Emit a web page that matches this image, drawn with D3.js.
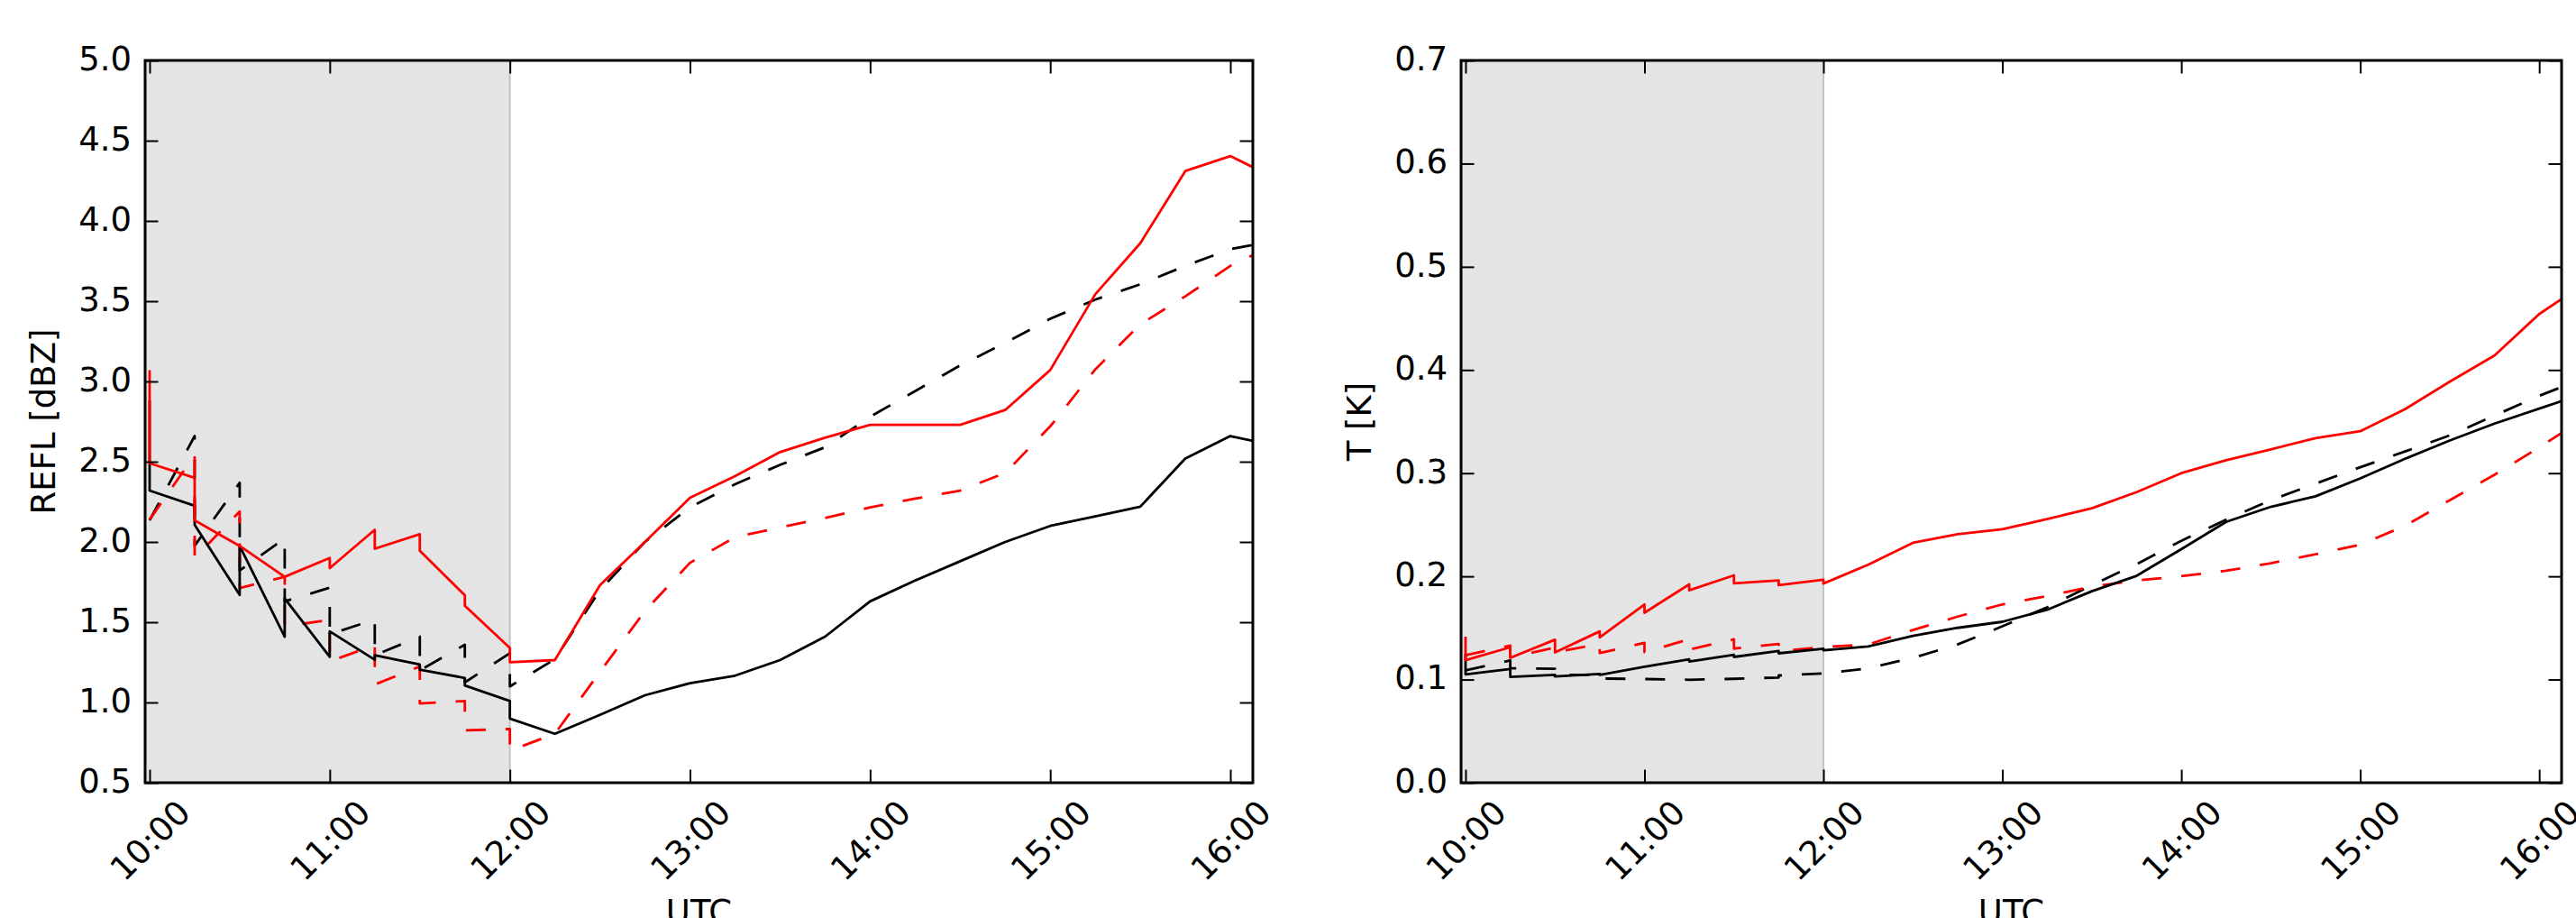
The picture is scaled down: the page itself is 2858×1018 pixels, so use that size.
<!DOCTYPE html>
<html>
<head>
<meta charset="utf-8">
<script src="https://cdn.jsdelivr.net/npm/d3@7"></script>
<style>
  html, body { margin: 0; padding: 0; background: #fff; overflow: hidden; }
  svg { display: block; }
  text { font-family: "DejaVu Sans", sans-serif; fill: #000; }
</style>
</head>
<body>
<script>
// ---------------- DATA ----------------
const hourTicks = ["10:00","11:00","12:00","13:00","14:00","15:00","16:00"];
const timeStart = "09:58:30";
const timeEnd   = "16:07:30";
const shadeEnd  = "12:00";
const reflTicks = [0.5,1.0,1.5,2.0,2.5,3.0,3.5,4.0,4.5,5.0];
const tempTicks = [0.0,0.1,0.2,0.3,0.4,0.5,0.6,0.7];

// REFL [dBZ]
const reflRedSolid = [
  ["10:00",3.07],["10:00",2.49],["10:15",2.40],["10:15",2.135],["10:30",1.975],["10:45",1.783],
  ["11:00",1.90],["11:00",1.837],["11:15",2.076],["11:15",1.958],["11:30",2.048],["11:30",1.945],
  ["11:45",1.668],["11:45",1.603],["12:00",1.34],["12:00",1.251],["12:15",1.264],["12:30",1.73],
  ["12:45",2.0],["13:00",2.275],["13:15",2.41],["13:30",2.56],["13:45",2.65],["14:00",2.73],
  ["14:15",2.73],["14:30",2.73],["14:45",2.822],["15:00",3.071],["15:15",3.543],["15:30",3.861],
  ["15:45",4.311],["16:00",4.404],["16:07:30",4.335]
];
const reflRedDashed = [
  ["10:00",2.14],["10:15",2.54],["10:15",1.90],["10:30",2.19],["10:30",1.713],["10:45",1.783],
  ["10:45",1.474],["11:00",1.515],["11:00",1.256],["11:15",1.357],["11:15",1.112],["11:30",1.224],
  ["11:30",0.994],["11:45",1.009],["11:45",0.826],["12:00",0.835],["12:00",0.70],["12:15",0.805],
  ["12:30",1.19],["12:45",1.57],["13:00",1.87],["13:15",2.03],["13:30",2.09],["13:45",2.15],
  ["14:00",2.215],["14:15",2.27],["14:30",2.32],["14:45",2.43],["15:00",2.72],["15:15",3.075],
  ["15:30",3.356],["15:45",3.53],["16:00",3.72],["16:07:30",3.787]
];
const reflBlackSolid = [
  ["10:00",2.88],["10:00",2.32],["10:15",2.225],["10:15",2.107],["10:30",1.67],["10:30",1.976],
  ["10:45",1.41],["10:45",1.648],["11:00",1.284],["11:00",1.443],["11:15",1.266],["11:15",1.294],
  ["11:30",1.237],["11:30",1.204],["11:45",1.153],["11:45",1.106],["12:00",1.009],["12:00",0.90],
  ["12:15",0.805],["12:30",0.923],["12:45",1.045],["13:00",1.12],["13:15",1.167],["13:30",1.264],
  ["13:45",1.41],["14:00",1.63],["14:15",1.76],["14:30",1.88],["14:45",2.0],["15:00",2.10],
  ["15:15",2.16],["15:30",2.22],["15:45",2.52],["16:00",2.66],["16:07:30",2.63]
];
const reflBlackDashed = [
  ["10:00",2.135],["10:15",2.66],["10:15",1.976],["10:30",2.369],["10:30",1.822],["10:45",2.023],
  ["10:45",1.63],["11:00",1.715],["11:00",1.425],["11:15",1.517],["11:15",1.294],["11:30",1.41],
  ["11:30",1.20],["11:45",1.36],["11:45",1.125],["12:00",1.307],["12:00",1.10],["12:15",1.27],
  ["12:30",1.70],["12:45",2.0],["13:00",2.215],["13:15",2.36],["13:30",2.48],["13:45",2.59],
  ["14:00",2.78],["14:15",2.94],["14:30",3.10],["14:45",3.24],["15:00",3.39],["15:15",3.51],
  ["15:30",3.605],["15:45",3.72],["16:00",3.824],["16:07:30",3.85]
];

// T [K]
const tempRedSolid = [
  ["10:00",0.1415],["10:00",0.1188],["10:15",0.1313],["10:15",0.1211],["10:30",0.1386],["10:30",0.1263],
  ["10:45",0.1467],["10:45",0.1409],["11:00",0.1728],["11:00",0.1647],["11:15",0.1923],["11:15",0.1865],
  ["11:30",0.201],["11:30",0.1932],["11:45",0.1961],["11:45",0.1914],["12:00",0.1967],["12:00",0.193],
  ["12:15",0.2112],["12:30",0.2325],["12:45",0.2409],["13:00",0.2456],["13:15",0.2555],["13:30",0.266],
  ["13:45",0.2816],["14:00",0.300],["14:15",0.3125],["14:30",0.323],["14:45",0.334],["15:00",0.3407],
  ["15:15",0.362],["15:30",0.3887],["15:45",0.414],["16:00",0.4542],["16:07:30",0.4687]
];
const tempRedDashed = [
  ["10:00",0.1235],["10:15",0.133],["10:15",0.1215],["10:30",0.131],["10:30",0.1265],["10:45",0.1345],
  ["10:45",0.1257],["11:00",0.1355],["11:00",0.1265],["11:15",0.139],["11:15",0.129],["11:30",0.139],
  ["11:30",0.130],["11:45",0.1345],["11:45",0.1275],["12:00",0.1315],["12:15",0.134],["12:30",0.148],
  ["12:45",0.161],["13:00",0.1728],["13:15",0.181],["13:30",0.190],["13:45",0.196],["14:00",0.2002],
  ["14:15",0.2054],["14:30",0.2127],["14:45",0.2214],["15:00",0.2307],["15:15",0.249],["15:30",0.2738],
  ["15:45",0.2985],["16:00",0.325],["16:07:30",0.339]
];
const tempBlackSolid = [
  ["10:00",0.125],["10:00",0.105],["10:15",0.1103],["10:15",0.1025],["10:30",0.1045],["10:30",0.103],
  ["10:45",0.1055],["10:45",0.1045],["11:00",0.1123],["11:15",0.1196],["11:15",0.1175],["11:30",0.124],
  ["11:30",0.1219],["11:45",0.1277],["11:45",0.1254],["12:00",0.1298],["12:00",0.1283],["12:15",0.132],
  ["12:30",0.1423],["12:45",0.1501],["13:00",0.156],["13:15",0.1676],["13:30",0.1856],["13:45",0.2005],
  ["14:00",0.2264],["14:15",0.2528],["14:30",0.2674],["14:45",0.2776],["15:00",0.295],["15:15",0.3139],
  ["15:30",0.3317],["15:45",0.348],["16:00",0.3626],["16:07:30",0.3698]
];
const tempBlackDashed = [
  ["10:00",0.109],["10:15",0.1185],["10:15",0.111],["10:30",0.1105],["10:30",0.1045],["10:45",0.1045],
  ["10:45",0.101],["11:00",0.1005],["11:15",0.0998],["11:30",0.1007],["11:45",0.102],["11:45",0.104],
  ["12:00",0.1059],["12:15",0.1109],["12:30",0.121],["12:45",0.134],["13:00",0.1516],["13:15",0.170],
  ["13:30",0.1915],["13:45",0.2118],["14:00",0.2345],["14:15",0.2549],["14:30",0.2738],["14:45",0.2898],
  ["15:00",0.3058],["15:15",0.321],["15:30",0.3366],["15:45",0.3558],["16:00",0.375],["16:07:30",0.3835]
];

// ---------------- DRAWING ----------------
const W = 2858, H = 1018;
const parseHM = d3.timeParse("%H:%M"), parseHMS = d3.timeParse("%H:%M:%S");
const pt = s => parseHMS(s) || parseHM(s);
const fmtHM = d3.timeFormat("%H:%M");

const svg = d3.select("body").append("svg").attr("width", W).attr("height", H);

const yTop = 67, yBot = 868;
const panels = [
  { x0: 161, x1: 1390, yDomain: [0.5, 5.0], yTicks: reflTicks, label: "REFL [dBZ]", labelX: 61,
    series: [
      { data: reflBlackDashed, color: "#000", dash: "22,22" },
      { data: reflRedDashed,   color: "#f00", dash: "22,22" },
      { data: reflBlackSolid,  color: "#000", dash: null },
      { data: reflRedSolid,    color: "#f00", dash: null }
    ] },
  { x0: 1621, x1: 2842, yDomain: [0.0, 0.7], yTicks: tempTicks, label: "T [K]", labelX: 1521,
    series: [
      { data: tempBlackDashed, color: "#000", dash: "22,22" },
      { data: tempRedDashed,   color: "#f00", dash: "22,22" },
      { data: tempBlackSolid,  color: "#000", dash: null },
      { data: tempRedSolid,    color: "#f00", dash: null }
    ] }
];

const FS = 37;

panels.forEach((p, i) => {
  const x = d3.scaleTime().domain([pt(timeStart), pt(timeEnd)]).range([p.x0, p.x1]);
  const y = d3.scaleLinear().domain(p.yDomain).range([yBot, yTop]);
  const g = svg.append("g");

  const clipId = "clip" + i;
  svg.append("clipPath").attr("id", clipId)
    .append("rect").attr("x", p.x0).attr("y", yTop).attr("width", p.x1 - p.x0).attr("height", yBot - yTop);

  // shaded span
  g.append("rect")
    .attr("x", x(pt(timeStart))).attr("y", yTop)
    .attr("width", x(pt(shadeEnd)) - x(pt(timeStart))).attr("height", yBot - yTop)
    .attr("fill", "#e4e4e4");
  g.append("line")
    .attr("x1", x(pt(shadeEnd))).attr("x2", x(pt(shadeEnd)))
    .attr("y1", yTop).attr("y2", yBot)
    .attr("stroke", "#c2c2c2").attr("stroke-width", 2);

  // lines
  const line = d3.line().x(d => x(pt(d[0]))).y(d => y(d[1]));
  const lg = g.append("g").attr("clip-path", `url(#${clipId})`);
  p.series.forEach(s => {
    lg.append("path").datum(s.data)
      .attr("d", line)
      .attr("fill", "none")
      .attr("stroke", s.color)
      .attr("stroke-width", 2.8)
      .attr("stroke-linejoin", "round")
      .attr("stroke-linecap", "butt")
      .attr("stroke-dasharray", s.dash);
  });

  const tickVals = hourTicks.map(pt);
  const TL = 14.5;

  // bottom axis
  const ax = g.append("g").attr("transform", `translate(0,${yBot})`)
    .call(d3.axisBottom(x).tickValues(tickVals).tickFormat(fmtHM).tickSizeInner(-TL).tickSizeOuter(0));
  ax.select(".domain").remove();
  ax.selectAll(".tick line").attr("stroke", "#000").attr("stroke-width", 2);
  ax.selectAll(".tick text")
    .attr("y", null).attr("dy", "0.35em")
    .attr("transform", "translate(0,64) rotate(-45)")
    .attr("text-anchor", "middle")
    .style("font-size", FS + "px").style("font-family", "DejaVu Sans");

  // top axis
  const axT = g.append("g").attr("transform", `translate(0,${yTop})`)
    .call(d3.axisTop(x).tickValues(tickVals).tickFormat("").tickSizeInner(-TL).tickSizeOuter(0));
  axT.select(".domain").remove();
  axT.selectAll(".tick line").attr("stroke", "#000").attr("stroke-width", 2);

  // left axis
  const ay = g.append("g").attr("transform", `translate(${p.x0},0)`)
    .call(d3.axisLeft(y).tickValues(p.yTicks).tickFormat(d3.format(".1f")).tickSizeInner(-TL).tickSizeOuter(0).tickPadding(15));
  ay.select(".domain").remove();
  ay.selectAll(".tick line").attr("stroke", "#000").attr("stroke-width", 2);
  ay.selectAll(".tick text").attr("dy", "0.28em")
    .style("font-size", FS + "px").style("font-family", "DejaVu Sans");

  // right axis
  const ayR = g.append("g").attr("transform", `translate(${p.x1},0)`)
    .call(d3.axisRight(y).tickValues(p.yTicks).tickFormat("").tickSizeInner(-TL).tickSizeOuter(0));
  ayR.select(".domain").remove();
  ayR.selectAll(".tick line").attr("stroke", "#000").attr("stroke-width", 2);

  // spines
  g.append("rect").attr("x", p.x0).attr("y", yTop)
    .attr("width", p.x1 - p.x0).attr("height", yBot - yTop)
    .attr("fill", "none").attr("stroke", "#000").attr("stroke-width", 3);

  // axis labels
  g.append("text")
    .attr("transform", `translate(${p.labelX},${(yTop + yBot) / 2}) rotate(-90)`)
    .attr("text-anchor", "middle")
    .style("font-size", FS + "px")
    .text(p.label);
  g.append("text")
    .attr("x", (p.x0 + p.x1) / 2).attr("y", 1024)
    .attr("text-anchor", "middle")
    .style("font-size", FS + "px")
    .text("UTC");
});
</script>
</body>
</html>
